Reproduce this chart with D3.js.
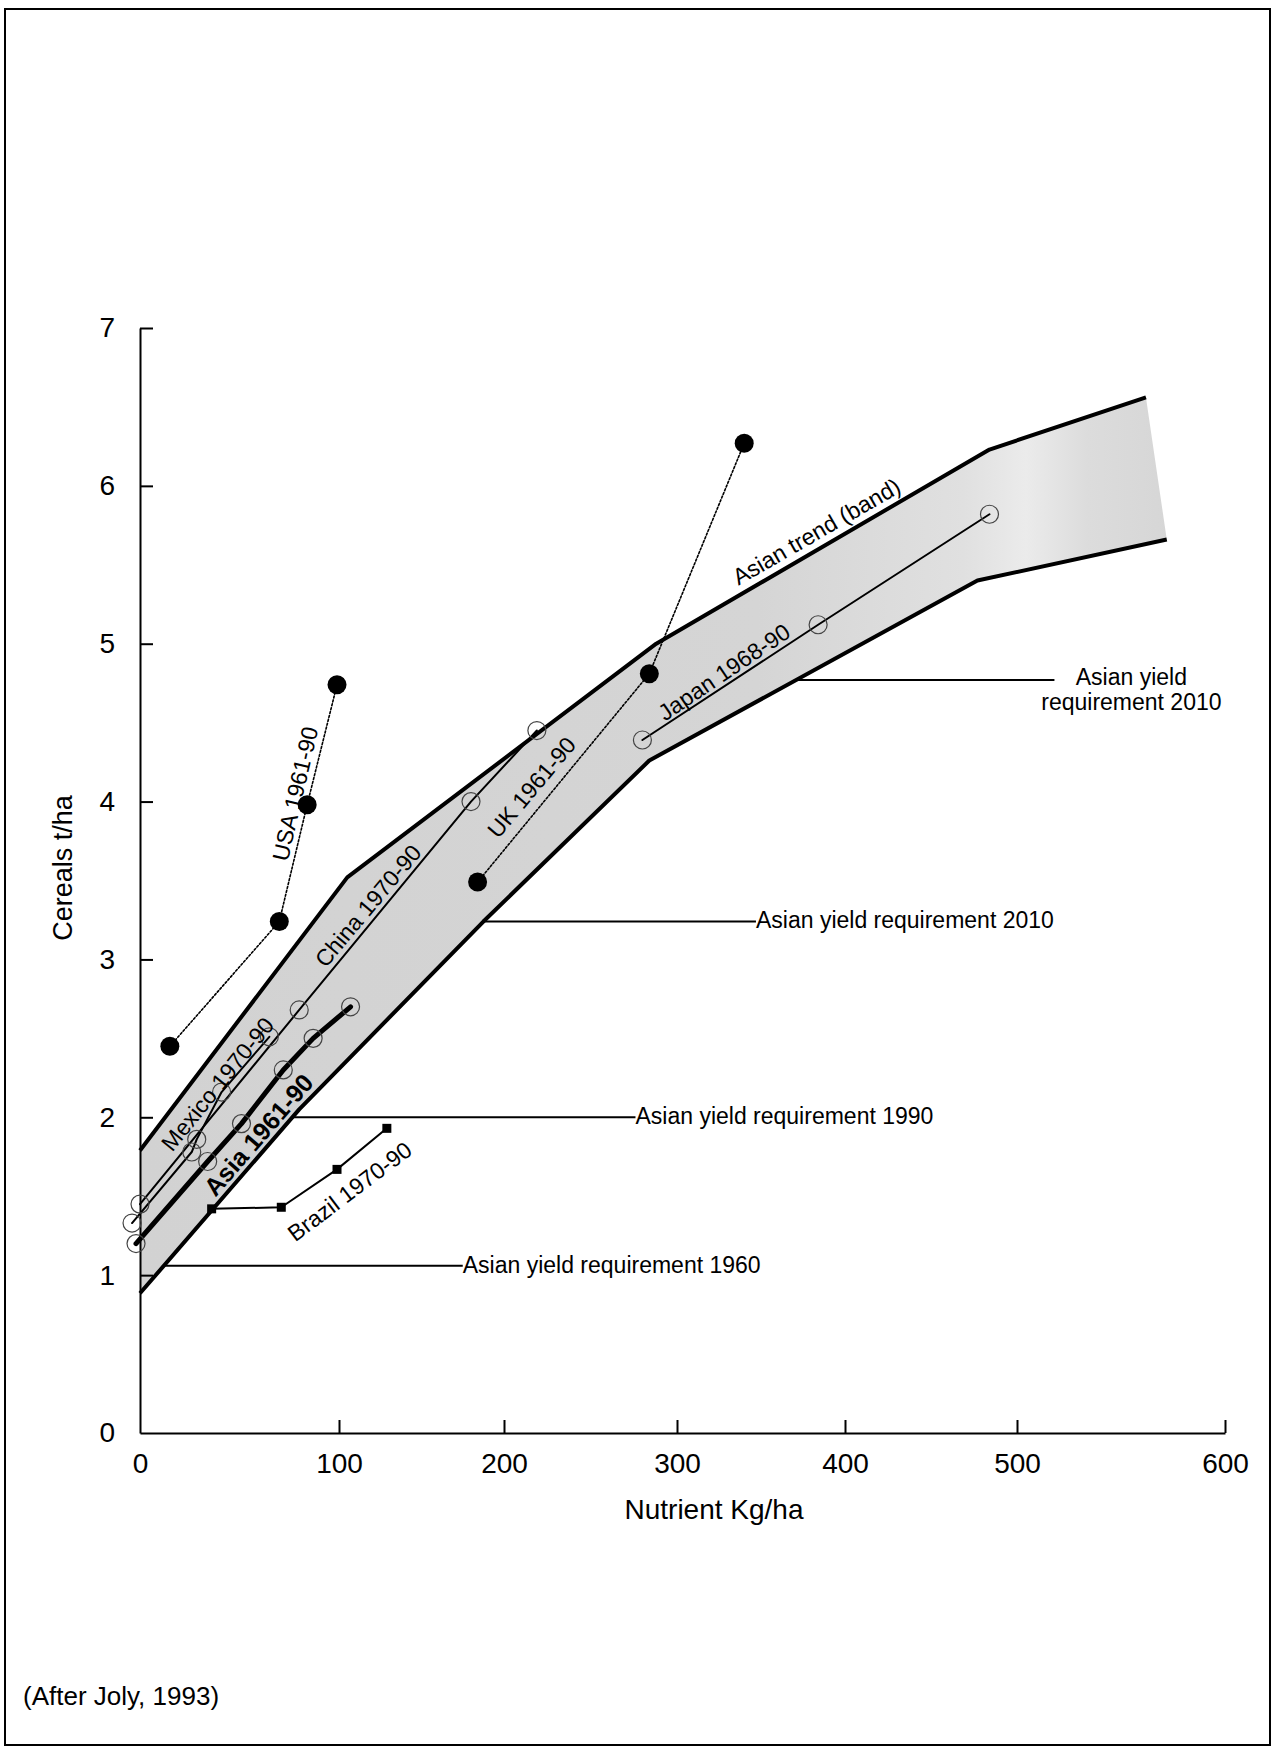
<!DOCTYPE html>
<html><head><meta charset="utf-8">
<script src="https://cdn.jsdelivr.net/npm/d3@7"></script>
<style>
body{margin:0;background:#fff}
svg{display:block}
text{font-family:"Liberation Sans",Arial,Helvetica,sans-serif;fill:#000}
</style>
</head><body>
<svg id="c" width="1274" height="1748"></svg>
<script>
// ---------------- data ----------------
const xTicks = [0, 100, 200, 300, 400, 500, 600];
const yTicks = [0, 1, 2, 3, 4, 5, 6, 7];

// Asian trend band edges [nutrient kg/ha, cereals t/ha]
const bandUpper = [[0, 1.79], [105, 3.52], [288, 5.00], [484, 6.23], [562, 6.56]];
const bandLower = [[0, 0.885], [80, 2.05], [187.5, 3.24], [284, 4.26], [477, 5.40], [572, 5.66]];

const usa    = [[15, 2.45], [70, 3.24], [84, 3.98], [99, 4.74]];
const uk     = [[184, 3.49], [284, 4.81], [340, 6.27]];
const japan  = [[280, 4.39], [384, 5.12], [484, 5.82]];
const china  = [[0, 1.45], [80, 2.68], [180, 4.00], [219, 4.45]];
const mexico = [[-4, 1.33], [26, 1.78], [28.5, 1.86], [41, 2.16], [65, 2.51]];
const asia   = [[-2, 1.20], [34, 1.72], [51, 1.96], [72, 2.30], [87, 2.50], [107, 2.70]];
const brazil = [[36, 1.42], [71, 1.43], [99, 1.67], [129, 1.93]];

// yield requirement annotations
const reqLabels = ["Asian yield requirement 1960", "Asian yield requirement 1990",
                   "Asian yield requirement 2010", "Asian yield|requirement 2010"];
const reqValues = [1.06, 2.0, 3.24, 4.77];
const reqLineEnd = [175, 276, 347, 518];      // nutrient value where leader ends
const reqTextAt  = [175, 276, 347, 555];      // nutrient value where text sits

// series labels
const labelTexts  = ["USA 1961-90", "China 1970-90", "UK 1961-90", "Japan 1968-90",
                     "Asian trend (band)", "Mexico 1970-90", "Asia 1961-90", "Brazil 1970-90"];
const labelX      = [78, 117.6, 216, 328, 383, 39, 59.5, 106.5];
const labelY      = [4.05, 3.34, 4.09, 4.82, 5.71, 2.21, 1.89, 1.53];
const labelAngle  = [-77, -50, -50, -34, -30, -51, -49, -37];
const labelBold   = [false, false, false, false, false, false, true, false];

// ---------------- drawing ----------------
const svg = d3.select("#c");

// outer frame
svg.append("rect").attr("x", 5).attr("y", 9).attr("width", 1265).attr("height", 1736)
  .attr("fill", "none").attr("stroke", "#000").attr("stroke-width", 2);

const x = d3.scaleLinear().domain(xTicks).range([140, 339, 504, 677, 845, 1017, 1225]);
const y = d3.scaleLinear().domain([0, 7]).range([1433, 328]);

// gradient for the band
const defs = svg.append("defs");
const grad = defs.append("linearGradient").attr("id", "bandGrad")
  .attr("gradientUnits", "userSpaceOnUse").attr("x1", 140).attr("x2", 1170).attr("y1", 0).attr("y2", 0);
[[0, "#d2d2d2"], [0.6, "#d5d5d5"], [0.8, "#e0e0e0"], [0.86, "#ebebeb"], [0.92, "#dcdcdc"], [1, "#d6d6d6"]]
  .forEach(s => grad.append("stop").attr("offset", s[0]).attr("stop-color", s[1]));

const line = d3.line().x(d => x(d[0])).y(d => y(d[1]));

// band fill
const poly = bandUpper.concat(bandLower.slice().reverse());
svg.append("path").attr("d", line(poly) + "Z").attr("fill", "url(#bandGrad)").attr("stroke", "none");

// axes
const xAxis = d3.axisBottom(x).tickValues(xTicks).tickFormat(d3.format("d"))
  .tickSizeInner(-13).tickSizeOuter(0).tickPadding(20);
const yAxis = d3.axisLeft(y).tickValues(yTicks).tickFormat(d3.format("d"))
  .tickSizeInner(-13).tickSizeOuter(0).tickPadding(25);
const gx = svg.append("g").attr("transform", `translate(0,${y(0)})`).call(xAxis);
const gy = svg.append("g").attr("transform", `translate(${x(0)},0)`).call(yAxis);
[gx, gy].forEach(g => {
  g.select(".domain").attr("stroke", "#000").attr("stroke-width", 2);
  g.selectAll(".tick line").attr("stroke", "#000").attr("stroke-width", 2);
  g.selectAll(".tick text").attr("font-size", 28).attr("fill", "#000")
    .style("font-family", '"Liberation Sans",Arial,sans-serif');
});
gy.selectAll(".tick").filter(d => d === 0).select("line").remove();
gx.selectAll(".tick").filter(d => d === 0).select("line").remove();

// axis titles
svg.append("text").attr("x", 714).attr("y", 1519).attr("text-anchor", "middle")
  .attr("font-size", 28).text("Nutrient Kg/ha");
svg.append("text").attr("transform", `translate(72,868) rotate(-90)`).attr("text-anchor", "middle")
  .attr("font-size", 27).text("Cereals t/ha");

// band edges
[bandUpper, bandLower].forEach(b =>
  svg.append("path").attr("d", line(b)).attr("fill", "none").attr("stroke", "#000")
    .attr("stroke-width", 4).attr("stroke-linejoin", "round"));

// leader lines for requirements
function lowerAt(v) {
  for (let i = 0; i < bandLower.length - 1; i++) {
    const a = bandLower[i], b = bandLower[i + 1];
    if (v >= a[1] && v <= b[1]) return a[0] + (v - a[1]) / (b[1] - a[1]) * (b[0] - a[0]);
  }
  return 0;
}
reqLabels.forEach((lab, i) => {
  const v = reqValues[i];
  svg.append("line").attr("x1", x(lowerAt(v))).attr("x2", x(reqLineEnd[i]))
    .attr("y1", y(v)).attr("y2", y(v)).attr("stroke", "#000").attr("stroke-width", 2);
  const parts = lab.split("|");
  if (parts.length === 1) {
    svg.append("text").attr("x", x(reqTextAt[i])).attr("y", y(v)).attr("dy", "0.3em")
      .attr("font-size", 23).text(lab);
  } else {
    const t = svg.append("text").attr("text-anchor", "middle").attr("font-size", 23);
    parts.forEach((p, k) => t.append("tspan").attr("x", x(reqTextAt[i])).attr("y", y(v) + 5 + k * 24.5).text(p));
  }
});

// series lines
function series(data, opts) {
  svg.append("path").attr("d", line(data)).attr("fill", "none").attr("stroke", "#000")
    .attr("stroke-width", opts.w).attr("stroke-dasharray", opts.dash || null)
    .attr("stroke-linejoin", "round").attr("stroke-linecap", "round");
}
series(usa, {w: 1.6, dash: "2,2"});
series(uk, {w: 1.6, dash: "2,2"});
series(japan, {w: 2});
series(china, {w: 2});
series(mexico, {w: 2});
series(brazil, {w: 2});
series(asia, {w: 5});

// open circles
[japan, china, mexico, asia].forEach(d =>
  svg.append("g").selectAll("circle").data(d).join("circle")
    .attr("cx", p => x(p[0])).attr("cy", p => y(p[1])).attr("r", 9)
    .attr("fill", "none").attr("stroke", "#444").attr("stroke-width", 1.2));

// filled circles
[usa, uk].forEach(d =>
  svg.append("g").selectAll("circle").data(d).join("circle")
    .attr("cx", p => x(p[0])).attr("cy", p => y(p[1])).attr("r", 9.5).attr("fill", "#000"));

// squares (Brazil)
svg.append("g").selectAll("rect").data(brazil).join("rect")
  .attr("x", p => x(p[0]) - 4.5).attr("y", p => y(p[1]) - 4.5)
  .attr("width", 9).attr("height", 9).attr("fill", "#000");

// series labels
labelTexts.forEach((t, i) => {
  svg.append("text")
    .attr("transform", `translate(${x(labelX[i])},${y(labelY[i])}) rotate(${labelAngle[i]})`)
    .attr("text-anchor", "middle").attr("dominant-baseline", "central")
    .attr("font-size", labelBold[i] ? 25 : 23).attr("font-weight", labelBold[i] ? "bold" : "normal")
    .text(t);
});

// source note
svg.append("text").attr("x", 23).attr("y", 1705).attr("font-size", 26).text("(After Joly, 1993)");
</script>
</body></html>
